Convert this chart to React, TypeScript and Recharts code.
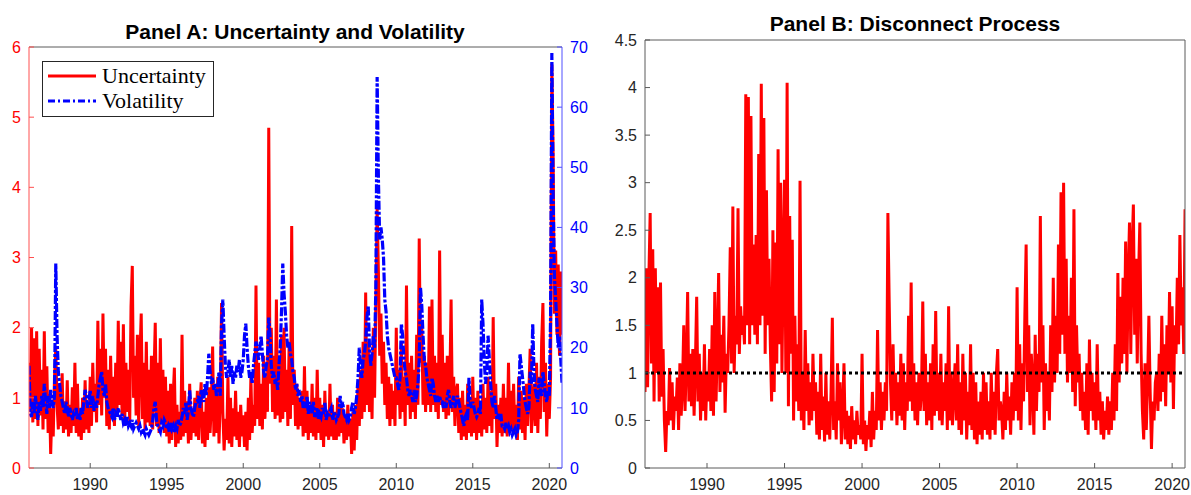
import React from 'react';
import { LineChart, Line, XAxis, YAxis, ReferenceLine } from 'recharts';

// monthly observations starting Jan 1986 (2020 row ends in Nov)
const START_YEAR = 1986;
const yearTicks = [1990, 1995, 2000, 2005, 2010, 2015, 2020];
const uncertaintyTicks = [0, 1, 2, 3, 4, 5, 6];
const volatilityTicks = [0, 10, 20, 30, 40, 50, 60, 70];
const disconnectTicks = [0, 0.5, 1, 1.5, 2, 2.5, 3, 3.5, 4, 4.5];

const uncertainty = [
  1.5, 0.8, 2.0, 0.65, 1.85, 0.7, 1.95, 0.6, 1.7, 0.75, 1.4, 0.55, // 1986
  1.95, 0.7, 1.45, 0.5, 1.05, 0.2, 0.85, 0.45, 1.3, 1.7, 0.9, 0.55, // 1987
  1.2, 0.6, 1.35, 0.5, 0.95, 0.55, 1.25, 0.45, 0.9, 0.5, 1.15, 0.6, // 1988
  1.5, 0.5, 1.2, 0.45, 0.85, 0.4, 1.0, 0.5, 1.25, 0.55, 0.9, 0.5, // 1989
  1.3, 0.6, 1.5, 0.8, 1.2, 0.65, 2.1, 0.9, 1.7, 0.75, 2.2, 1.0, // 1990
  1.7, 0.6, 1.4, 0.55, 1.6, 0.7, 1.3, 0.6, 1.5, 0.8, 2.1, 0.9, // 1991
  1.8, 0.75, 2.05, 0.6, 1.5, 0.8, 1.4, 0.65, 2.3, 2.88, 1.0, 1.6, // 1992
  0.75, 1.9, 0.6, 1.6, 2.2, 0.7, 1.5, 0.55, 1.8, 0.65, 1.4, 0.6, // 1993
  1.6, 0.55, 1.3, 2.07, 0.6, 1.5, 0.5, 1.85, 0.65, 1.4, 0.5, 1.3, // 1994
  0.45, 1.1, 0.35, 1.2, 0.4, 1.0, 1.43, 0.3, 0.9, 0.35, 0.8, 0.4, // 1995
  1.9, 0.45, 1.1, 0.5, 0.95, 0.35, 1.2, 0.4, 0.85, 0.5, 1.0, 0.45, // 1996
  1.1, 0.4, 0.9, 1.22, 0.35, 0.8, 0.3, 1.0, 0.4, 1.15, 0.5, 0.9, // 1997
  1.73, 0.45, 1.1, 0.5, 1.3, 0.35, 1.0, 2.35, 0.8, 0.25, 0.7, 0.4, // 1998
  1.3, 0.35, 1.0, 0.3, 0.85, 0.45, 1.1, 0.4, 0.8, 0.3, 0.9, 0.45, // 1999
  0.75, 0.3, 0.8, 0.25, 1.0, 0.4, 1.3, 0.5, 0.9, 0.6, 2.6, 0.7, // 2000
  1.5, 0.6, 1.2, 0.55, 1.6, 0.7, 1.3, 0.8, 4.85, 1.2, 2.0, 0.8, // 2001
  1.6, 0.7, 2.4, 0.75, 1.5, 0.65, 1.9, 0.7, 2.0, 0.8, 1.4, 0.6, // 2002
  1.8, 0.7, 3.45, 0.9, 1.4, 0.6, 1.2, 0.55, 1.0, 0.6, 1.1, 0.45, // 2003
  1.45, 0.5, 1.1, 0.4, 0.9, 0.5, 1.2, 0.45, 1.0, 0.4, 1.4, 0.5, // 2004
  1.0, 0.4, 0.9, 0.3, 1.1, 0.45, 0.8, 0.4, 1.2, 0.45, 0.9, 0.4, // 2005
  0.8, 0.4, 1.0, 0.45, 0.9, 0.5, 0.85, 0.35, 0.75, 0.4, 0.9, 0.45, // 2006
  0.7, 0.2, 0.8, 0.25, 0.9, 0.4, 1.2, 0.6, 1.4, 0.7, 1.8, 0.8, // 2007
  2.5, 0.9, 1.8, 0.8, 1.5, 0.7, 2.0, 1.0, 2.4, 3.7, 2.8, 1.6, // 2008
  2.2, 1.2, 1.8, 0.9, 1.5, 0.7, 1.3, 0.6, 1.2, 0.7, 1.1, 0.6, // 2009
  2.0, 0.9, 1.4, 0.7, 1.8, 0.8, 1.3, 0.6, 2.6, 0.9, 1.5, 0.7, // 2010
  1.6, 0.8, 1.4, 0.7, 1.9, 0.9, 3.27, 1.5, 2.0, 0.9, 1.6, 0.8, // 2011
  1.5, 0.9, 2.3, 0.8, 2.4, 0.9, 1.6, 0.8, 1.5, 0.7, 3.1, 0.9, // 2012
  1.9, 0.8, 1.5, 0.7, 1.6, 0.75, 1.2, 2.4, 0.8, 1.3, 0.6, 1.1, // 2013
  1.2, 0.5, 1.0, 0.4, 1.1, 0.45, 0.9, 0.4, 1.2, 0.5, 1.0, 0.45, // 2014
  1.3, 0.5, 1.0, 0.4, 1.1, 0.5, 0.9, 0.45, 1.2, 0.55, 1.0, 0.5, // 2015
  1.3, 0.6, 1.1, 0.5, 2.15, 0.7, 1.2, 0.3, 0.9, 0.5, 1.0, 0.45, // 2016
  1.2, 0.5, 1.0, 0.45, 1.5, 0.5, 1.1, 0.55, 1.2, 0.5, 0.9, 0.4, // 2017
  1.3, 0.55, 1.1, 0.5, 1.0, 0.4, 1.2, 0.6, 1.1, 1.7, 0.5, 0.9, // 2018
  1.2, 0.6, 1.5, 0.5, 1.3, 0.7, 1.8, 2.35, 0.8, 1.5, 0.45, 1.2, // 2019
  0.7, 1.3, 5.75, 4.5, 2.2, 3.1, 1.9, 2.9, 1.6, 2.8, 1.9, // 2020
];

const volatility = [
  17, 9, 8.5, 11, 9, 12, 10, 8, 11, 9.5, 12, 10, // 1986
  14, 11, 9, 12, 10, 13, 11, 10, 12, 34, 22, 16, // 1987
  14, 12, 11, 10, 9, 11, 10, 8.5, 10, 9, 8, 9, // 1988
  8.5, 10, 8, 9, 8, 10, 9, 11, 13, 12, 10, 11, // 1989
  13, 10, 12, 9.5, 11, 10, 12, 14, 15, 16, 13, 12, // 1990
  14, 11, 10, 9.5, 9, 8.5, 10, 8, 9, 8.5, 10, 9, // 1991
  8, 9, 7.5, 8, 7, 8.5, 7, 7.5, 7, 8, 6.5, 7, // 1992
  7.5, 7, 6.5, 7, 6, 6.5, 6, 5.5, 6.5, 6, 5.5, 6, // 1993
  6.5, 8, 10, 11, 8, 7, 6.5, 6, 7.5, 7, 8, 7.5, // 1994
  6.5, 7, 6, 7.5, 6.5, 7, 6, 7, 6.5, 8, 7, 7.5, // 1995
  8.5, 10, 9, 11, 8, 9.5, 13, 10, 9, 8.5, 10, 11, // 1996
  11, 12, 10, 13, 12, 11, 14, 12, 15, 19, 16, 14, // 1997
  15, 13, 14, 12, 13, 16, 12, 24, 28, 22, 17, 15, // 1998
  16, 18, 15, 17, 14, 16, 15, 17, 16, 18, 15, 16, // 1999
  18, 22, 24, 20, 17, 15, 16, 14, 17, 19, 21, 20, // 2000
  18, 20, 22, 19, 16, 15, 17, 18, 25, 22, 17, 15, // 2001
  16, 14, 15, 13, 17, 20, 26, 34, 29, 26, 22, 20, // 2002
  21, 19, 18, 16, 15, 13, 14, 12, 13, 11, 12, 10, // 2003
  11, 10, 12, 9, 11, 10, 9, 11, 8.5, 9, 10, 8, // 2004
  9, 8.5, 10, 9, 11, 8, 9, 8.5, 9.5, 10, 8, 9, // 2005
  9, 8, 8.5, 9, 12, 10, 11, 9, 8.5, 8, 9, 8, // 2006
  8.5, 10, 11, 9, 10, 12, 15, 20, 17, 15, 18, 19, // 2007
  21, 25, 27, 20, 17, 19, 22, 20, 30, 65, 48, 38, // 2008
  40, 38, 35, 28, 26, 22, 20, 19, 18, 17, 16, 15, // 2009
  15, 14, 13, 15, 24, 22, 18, 16, 15, 13, 12, 13, // 2010
  12, 11, 13, 11, 12, 14, 18, 30, 27, 22, 18, 17, // 2011
  15, 14, 13, 12, 15, 14, 12, 11, 12, 11, 12, 11, // 2012
  11, 10, 11, 10, 12, 13, 11, 10, 11, 12, 10, 11, // 2013
  12, 11, 10, 9, 8, 7, 8.5, 9, 8, 15, 11, 10, // 2014
  11, 10, 9, 8.5, 9, 10, 9, 28, 24, 18, 14, 16, // 2015
  22, 18, 14, 11, 10, 12, 10, 8, 9, 8, 9, 7, // 2016
  7, 6.5, 7.5, 6.5, 7, 6, 6.5, 5.5, 6, 6.5, 5.5, 6, // 2017
  8, 19, 17, 15, 13, 11, 10, 9, 10, 16, 14, 24, // 2018
  16, 13, 12, 11, 15, 13, 12, 16, 14, 12, 11, 13, // 2019
  12, 25, 69, 45, 32, 28, 24, 20, 22, 18, 14, // 2020
];

const disconnect = [
  0.8, 2.1, 0.85, 2.0, 2.68, 1.1, 2.3, 0.7, 2.1, 1.0, 1.9, 0.7, // 1986
  1.95, 0.75, 1.25, 0.5, 0.17, 0.6, 0.45, 1.05, 0.5, 0.9, 0.4, 0.75, // 1987
  0.6, 0.95, 0.4, 1.1, 0.55, 0.85, 1.5, 0.6, 1.1, 1.85, 0.7, 1.2, // 1988
  0.65, 1.25, 0.55, 1.1, 1.8, 0.7, 1.2, 0.5, 1.0, 0.6, 1.3, 0.5, // 1989
  1.0, 0.7, 1.25, 0.6, 1.5, 0.55, 1.85, 0.7, 1.3, 2.05, 0.8, 1.4, // 1990
  0.9, 1.6, 0.58, 1.2, 1.0, 1.5, 2.32, 1.1, 2.75, 1.0, 1.6, 1.3, // 1991
  2.73, 1.2, 1.7, 1.4, 1.6, 1.3, 3.93, 1.5, 3.9, 1.3, 3.7, 1.5, // 1992
  2.35, 1.4, 2.45, 1.3, 3.3, 1.5, 4.04, 1.6, 3.68, 1.2, 2.92, 1.5, // 1993
  2.2, 1.3, 0.7, 2.5, 0.8, 2.37, 1.1, 3.35, 1.3, 3.0, 1.0, 2.2, // 1994
  3.03, 1.0, 4.05, 0.65, 2.65, 1.2, 2.4, 0.5, 1.6, 0.7, 1.3, 0.6, // 1995
  3.02, 0.5, 1.0, 0.4, 1.45, 0.6, 1.1, 0.45, 0.9, 0.5, 1.2, 0.6, // 1996
  0.9, 0.35, 0.8, 0.3, 1.2, 0.4, 0.75, 0.28, 1.0, 0.35, 0.7, 0.3, // 1997
  0.8, 1.58, 0.4, 0.7, 0.3, 1.1, 0.5, 0.9, 0.25, 0.6, 1.1, 0.3, // 1998
  0.6, 0.25, 0.55, 0.2, 0.65, 0.3, 0.5, 0.25, 0.6, 0.35, 0.45, 0.3, // 1999
  1.2, 0.25, 0.5, 0.18, 0.45, 0.3, 0.6, 0.22, 0.8, 0.3, 0.6, 0.4, // 2000
  1.45, 0.5, 0.9, 0.4, 0.8, 0.5, 0.9, 0.6, 2.68, 1.75, 0.9, 0.5, // 2001
  1.3, 0.6, 1.0, 0.45, 0.9, 0.55, 1.2, 0.5, 1.1, 0.4, 0.9, 0.6, // 2002
  1.6, 0.7, 1.95, 0.6, 1.1, 0.5, 0.9, 0.45, 1.0, 0.6, 0.8, 1.75, // 2003
  0.6, 1.2, 0.45, 0.9, 0.5, 1.1, 0.4, 1.3, 0.55, 1.65, 0.6, 1.0, // 2004
  0.5, 1.2, 0.45, 0.9, 0.6, 1.1, 0.4, 1.7, 0.5, 1.0, 0.45, 0.8, // 2005
  1.1, 0.5, 1.3, 0.4, 0.9, 0.35, 1.2, 0.5, 1.0, 0.3, 0.8, 0.45, // 2006
  1.3, 0.4, 1.0, 0.3, 0.9, 0.25, 0.7, 0.35, 0.8, 0.3, 1.0, 0.4, // 2007
  0.9, 0.35, 0.7, 0.3, 1.0, 0.4, 0.8, 0.35, 1.0, 1.25, 0.5, 0.7, // 2008
  0.6, 0.3, 0.8, 0.4, 1.0, 0.5, 0.75, 0.35, 0.9, 0.5, 1.0, 0.6, // 2009
  1.9, 0.5, 1.3, 0.4, 1.1, 0.7, 1.6, 2.35, 0.8, 1.5, 0.45, 1.2, // 2010
  0.9, 0.35, 1.4, 0.6, 1.2, 0.8, 2.65, 0.9, 1.5, 0.4, 1.1, 0.6, // 2011
  1.0, 0.5, 1.5, 0.8, 2.0, 0.9, 1.6, 1.0, 2.35, 1.2, 2.9, 1.4, // 2012
  3.0, 1.2, 2.2, 0.9, 1.6, 1.0, 2.0, 0.8, 2.72, 0.65, 1.5, 0.9, // 2013
  1.2, 0.6, 1.0, 0.5, 0.8, 0.4, 1.1, 0.35, 1.35, 0.6, 1.0, 0.5, // 2014
  0.9, 0.4, 1.3, 0.5, 0.8, 0.35, 0.7, 0.3, 0.6, 0.4, 0.75, 0.35, // 2015
  0.7, 0.4, 1.0, 0.5, 1.3, 0.6, 2.05, 0.9, 1.8, 1.1, 2.0, 1.2, // 2016
  2.38, 1.0, 2.0, 2.58, 1.2, 2.3, 2.77, 1.4, 2.2, 1.1, 2.0, 2.58, // 2017
  1.2, 0.6, 0.3, 1.1, 0.4, 0.9, 1.6, 0.8, 0.2, 0.7, 0.5, 0.9, // 2018
  1.0, 0.6, 1.2, 0.7, 1.6, 0.8, 1.3, 0.65, 1.5, 1.0, 1.85, 0.9, // 2019
  1.7, 0.62, 1.5, 1.2, 2.0, 1.3, 2.45, 1.5, 1.9, 1.2, 2.72, // 2020
];

const panelAData = uncertainty.map((u, i) => ({ t: START_YEAR + i / 12, u, v: volatility[i] }));
const panelBData = disconnect.map((d, i) => ({ t: START_YEAR + i / 12, d }));

const X_DOMAIN: [number, number] = [1986, 2020.83];
const sans = '"Liberation Sans", Arial, Helvetica, sans-serif';
const tickFont = { fontFamily: sans, fontSize: 16 };
const boxGray = '#5a5a5a';
const volDash = '9 2 3 2';

const LegendBox = () => (
  <div style={{
    position: 'absolute', left: 42, top: 61,
    width: 172, height: 56, boxSizing: 'border-box', border: '1px solid #262626', background: '#fff',
    fontFamily: '"Liberation Serif", "Times New Roman", serif', fontSize: 22, color: '#000', paddingTop: 1,
  }}>
    <div style={{ display: 'flex', alignItems: 'center', height: 25 }}>
      <svg width={59} height={25}>
        <line x1={5} x2={53} y1={13} y2={13} stroke="#ff0000" strokeWidth={3} />
      </svg>
      <span>Uncertainty</span>
    </div>
    <div style={{ display: 'flex', alignItems: 'center', height: 25 }}>
      <svg width={59} height={25}>
        <line x1={5} x2={53} y1={13} y2={13} stroke="#0000ff" strokeWidth={3} strokeDasharray="7 3 2 3" />
      </svg>
      <span>Volatility</span>
    </div>
  </div>
);

const titleStyle = (cx: number, cy: number): React.CSSProperties => ({
  position: 'absolute', left: cx - 250, top: cy - 13, width: 500, textAlign: 'center',
  fontFamily: sans, fontWeight: 'bold', fontSize: 21, color: '#000', lineHeight: '26px',
});

export default function App() {
  return (
    <div style={{ position: 'absolute', left: 0, top: 0, width: 1191, height: 495, background: '#fff', overflow: 'hidden' }}>
      <div style={titleStyle(295, 32)}>Panel A: Uncertainty and Volatility</div>
      <div style={titleStyle(915, 24)}>Panel B: Disconnect Process</div>

      <div style={{ position: 'absolute', left: 0, top: 0 }}>
        <LineChart width={600} height={495} data={panelAData} margin={{ top: 46, right: 0, bottom: 2, left: 0 }}>
          <XAxis xAxisId="b" dataKey="t" type="number" domain={X_DOMAIN} ticks={yearTicks} allowDataOverflow
            height={25} tickSize={-5} tickMargin={16} stroke={boxGray} tick={{ ...tickFont, fill: '#262626' }} />
          <XAxis xAxisId="top" orientation="top" dataKey="t" type="number" domain={X_DOMAIN} ticks={yearTicks}
            allowDataOverflow height={1} tickSize={-5} tick={false} stroke={boxGray} />
          <YAxis yAxisId="l" domain={[0, 6]} ticks={uncertaintyTicks} allowDataOverflow width={29}
            tickSize={-5} tickMargin={13} stroke="#ff5050" tick={{ ...tickFont, fill: '#ff0000' }} />
          <YAxis yAxisId="r" orientation="right" domain={[0, 70]} ticks={volatilityTicks} allowDataOverflow width={38}
            tickSize={-5} tickMargin={13} stroke="#5050ff" tick={{ ...tickFont, fill: '#0000ff' }} />
          <Line xAxisId="b" yAxisId="l" type="linear" dataKey="u" stroke="#ff0000" strokeWidth={3}
            dot={false} isAnimationActive={false} />
          <Line xAxisId="b" yAxisId="r" type="linear" dataKey="v" stroke="#0000ff" strokeWidth={3.2}
            strokeDasharray={volDash} dot={false} isAnimationActive={false} />
        </LineChart>
      </div>
      <LegendBox />

      <div style={{ position: 'absolute', left: 600, top: 0 }}>
        <LineChart width={591} height={495} data={panelBData} margin={{ top: 39, right: 5, bottom: 2, left: 0 }}>
          <XAxis xAxisId="b" dataKey="t" type="number" domain={X_DOMAIN} ticks={yearTicks} allowDataOverflow
            height={25} tickSize={-5} tickMargin={16} stroke={boxGray} tick={{ ...tickFont, fill: '#262626' }} />
          <XAxis xAxisId="top" orientation="top" dataKey="t" type="number" domain={X_DOMAIN} ticks={yearTicks}
            allowDataOverflow height={1} tickSize={-5} tick={false} stroke={boxGray} />
          <YAxis yAxisId="l" domain={[0, 4.5]} ticks={disconnectTicks} allowDataOverflow width={45}
            tickSize={-5} tickMargin={13} stroke={boxGray} tick={{ ...tickFont, fill: '#262626' }} />
          <YAxis yAxisId="r" orientation="right" domain={[0, 4.5]} ticks={disconnectTicks} allowDataOverflow width={1}
            tickSize={-5} tick={false} stroke={boxGray} />
          <Line xAxisId="b" yAxisId="l" type="linear" dataKey="d" stroke="#ff0000" strokeWidth={3}
            dot={false} isAnimationActive={false} />
          <ReferenceLine xAxisId="b" yAxisId="l" y={1} stroke="#000" strokeWidth={3} strokeDasharray="3 3" />
        </LineChart>
      </div>
    </div>
  );
}
